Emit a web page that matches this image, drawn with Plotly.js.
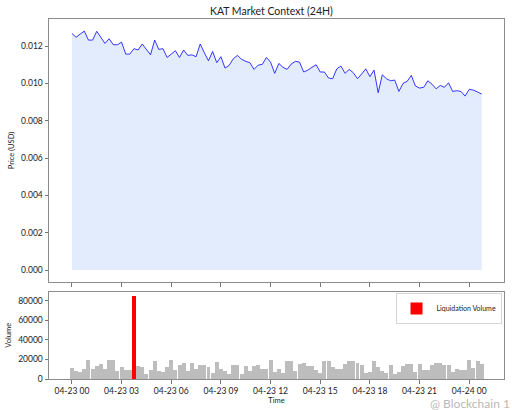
<!DOCTYPE html>
<html>
<head>
<meta charset="utf-8">
<script src="https://cdn.plot.ly/plotly-3.0.1.min.js"></script>
<style>html,body{margin:0;padding:0;background:#fff;}#chart{width:512px;height:410px;}</style>
</head>
<body>
<div id="chart"></div>
<script>
// ---- data (15-minute intervals starting 2024-04-23 00:00) ----
const startTime = '2024-04-23 00:00';
const stepMinutes = 15;
const price = [
0.01268,0.01247,0.01264,0.01280,0.01232,0.01232,0.01279,0.01247,0.01214,0.01239,
0.01207,0.01207,0.01221,0.01157,0.01157,0.01186,0.01179,0.01211,0.01182,0.01153,
0.01232,0.01182,0.01186,0.01139,0.01157,0.01175,0.01139,0.01179,0.01150,0.01153,
0.01143,0.01211,0.01164,0.01121,0.01171,0.01111,0.01143,0.01082,0.01097,0.01132,
0.01150,0.01129,0.01118,0.01111,0.01075,0.01098,0.01102,0.01139,0.01114,0.01054,
0.01107,0.01086,0.01075,0.01104,0.01118,0.01114,0.01061,0.01071,0.01086,0.01100,
0.01061,0.01061,0.01029,0.01025,0.01078,0.01093,0.01054,0.01075,0.01057,0.01025,
0.01050,0.01078,0.01036,0.01071,0.00950,0.01046,0.01025,0.01014,0.01018,0.00957,
0.01000,0.01011,0.01043,0.00986,0.00975,0.00979,0.01014,0.00996,0.00971,0.00989,
0.00979,0.01003,0.00957,0.00961,0.00957,0.00932,0.00968,0.00964,0.00954,0.00943];
const volume = [
11200,8500,7100,10500,19400,10000,13000,15300,10500,19400,
19400,8500,11900,9200,9200,9000,13500,11900,5100,9200,
18200,8500,7100,12500,19400,9000,14600,16000,8500,16000,
10500,14000,14000,12600,6500,17300,9900,7800,5400,14000,
14600,5100,13300,8500,13300,14600,10500,10000,19400,7100,
10500,6500,18700,18700,8500,15300,16500,13600,12900,9500,
6500,18700,18700,12000,10500,10500,15500,18700,18700,16500,
14600,6000,7400,18500,12000,8000,6000,14600,5400,7100,
13000,15000,15000,7000,15000,9500,9500,14600,16000,16000,
14600,14600,6800,10500,9200,9200,19400,11000,18400,15000];
const liqTimes = ['2024-04-23 03:45'];
const liqVolume = [85000];
const priceTicks = [0,0.002,0.004,0.006,0.008,0.010,0.012];
const volTicks = [0,20000,40000,60000,80000];

// ---- build time axis ----
function pad(n){return (n<10?'0':'')+n;}
function fmt(d){return d.getUTCFullYear()+'-'+pad(d.getUTCMonth()+1)+'-'+pad(d.getUTCDate())+' '+pad(d.getUTCHours())+':'+pad(d.getUTCMinutes());}
const t0 = Date.parse(startTime.replace(' ','T')+':00Z');
const times = price.map((_,i)=>fmt(new Date(t0+i*stepMinutes*60000)));
const hour = 3600000;
const xr = [fmt(new Date(t0-1.38*hour)), fmt(new Date(t0+26.1*hour))];
const barW = 864000; // 0.01 day

const FONT = 'Lato, "Open Sans", sans-serif';
const frame = '#8c8c8c';

const traces = [
  {x: times, y: price, type:'scatter', mode:'lines', fill:'tozeroy',
   fillcolor:'rgba(100,149,237,0.18)', line:{color:'rgba(20,20,255,0.85)', width:1},
   xaxis:'x', yaxis:'y', showlegend:false, hoverinfo:'skip'},
  {x: times, y: volume, type:'bar', width: barW, marker:{color:'#bdbdbd', line:{width:0}},
   xaxis:'x2', yaxis:'y2', showlegend:false},
  {x: liqTimes, y: liqVolume, type:'bar', width: barW, marker:{color:'#ff0000', line:{width:0}},
   name:'Liquidation Volume', xaxis:'x2', yaxis:'y2', showlegend:true}
];

const axCommon = {showline:true, mirror:true, linecolor:frame, linewidth:1, showgrid:false, zeroline:false,
  ticks:'outside', ticklen:3.5, tickcolor:'#555', tickwidth:0.8,
  tickfont:{family:FONT, size:8.5, color:'#222'}};

const layout = {
  width:512, height:410,
  margin:{l:49, r:8, t:19, b:31},
  paper_bgcolor:'#fff', plot_bgcolor:'#fff',
  font:{family:FONT, color:'#222'},
  barmode:'overlay', bargap:0,
  title:{text:'KAT Market Context (24H)', font:{family:FONT, size:10.5, color:'#222'},
         x:0.53, xanchor:'center', yref:'container', y:0.972, yanchor:'middle'},
  xaxis: Object.assign({}, axCommon, {type:'date', range:xr, anchor:'y', matches:'x2',
         dtick:3*hour, tick0:'2024-04-23 00:00', showticklabels:false}),
  yaxis: Object.assign({}, axCommon, {domain:[0.2694,1], range:[-0.00064,0.01345],
         tickvals:priceTicks, tickformat:'.3f',
         title:{text:'Price (USD)', font:{family:FONT, size:7.5, color:'#222'}, standoff:5}}),
  xaxis2: Object.assign({}, axCommon, {type:'date', range:xr, anchor:'y2',
         dtick:3*hour, tick0:'2024-04-23 00:00', tickformat:'%m-%d %H',
         title:{text:'Time', font:{family:FONT, size:7.5, color:'#222'}, standoff:3}}),
  yaxis2: Object.assign({}, axCommon, {domain:[0,0.243], range:[0,89300],
         tickvals:volTicks, tickformat:'d',
         title:{text:'Volume', font:{family:FONT, size:7.5, color:'#222'}, standoff:5}}),
  legend:{x:0.995, xanchor:'right', y:0.238, yanchor:'top', bgcolor:'#fff',
          bordercolor:'#cccccc', borderwidth:0.8, font:{family:FONT, size:7, color:'#222'},
          itemwidth:30, tracegroupgap:0},
  annotations:[{text:'@ Blockchain 1', xref:'paper', yref:'paper', x:1.017, xanchor:'right',
          y:-0.068, yanchor:'middle', showarrow:false, font:{family:FONT, size:12, color:'rgba(150,150,150,0.7)'}}]
};

Plotly.newPlot('chart', traces, layout, {staticPlot:true, displayModeBar:false});
</script>
</body>
</html>
